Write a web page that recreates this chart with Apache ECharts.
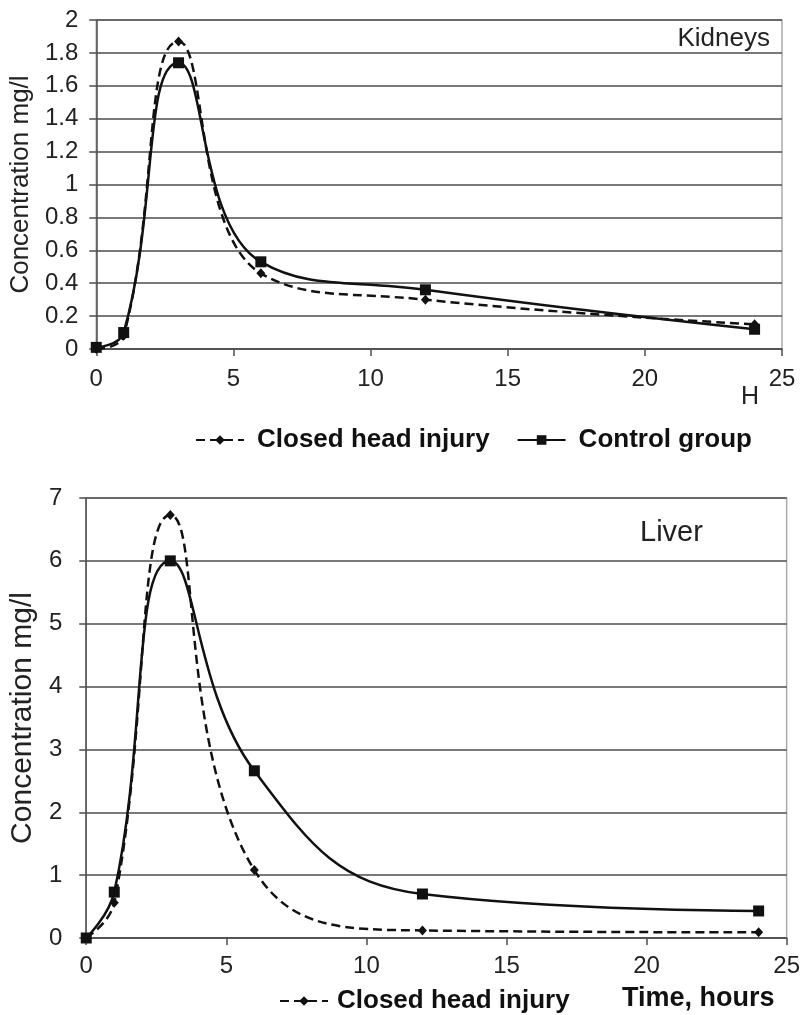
<!DOCTYPE html>
<html>
<head>
<meta charset="utf-8">
<script src="https://cdn.jsdelivr.net/npm/echarts@6/dist/echarts.min.js"></script>
<style>
html,body{margin:0;padding:0;background:#fff;}
#c{width:803px;height:1015px;}
</style>
</head>
<body>
<div id="c"></div>
<script>
// ---- data ----
var hours = [0, 1, 3, 6, 12, 24];
var kidneyInjury = [0.0, 0.08, 1.87, 0.46, 0.30, 0.15];
var kidneyControl = [0.01, 0.10, 1.74, 0.53, 0.36, 0.12];
var liverInjury = [0.0, 0.56, 6.73, 1.08, 0.12, 0.09];
var liverControl = [0.0, 0.73, 6.0, 2.66, 0.70, 0.43];
var xTicks = [0, 5, 10, 15, 20, 25];
var kidneyYTicks = [0, 0.2, 0.4, 0.6, 0.8, 1, 1.2, 1.4, 1.6, 1.8, 2];
var liverYTicks = [0, 1, 2, 3, 4, 5, 6, 7];
var seriesNames = ['Closed head injury', 'Control group'];

function pairs(xs, ys) { return xs.map(function (x, i) { return [x, ys[i]]; }); }

var FONT = '"Liberation Sans", Arial, sans-serif';
var TXT = '#222';
var GRIDC = '#4d4d4d';

function xAxisCfg(gridIndex, margin) {
  return {
    type: 'value', gridIndex: gridIndex,
    min: xTicks[0], max: xTicks[xTicks.length - 1], interval: xTicks[1] - xTicks[0],
    axisLine: { lineStyle: { color: GRIDC, width: 1.5 } },
    axisTick: { show: true, inside: false, length: 7, lineStyle: { color: GRIDC, width: 1.5 } },
    axisLabel: { margin: margin, fontFamily: FONT, fontSize: 24, color: TXT },
    splitLine: { show: false }
  };
}
function yAxisCfg(gridIndex, ticks, nameSize, nameGap, labelMargin) {
  return {
    type: 'value', gridIndex: gridIndex,
    min: ticks[0], max: ticks[ticks.length - 1], interval: ticks[1] - ticks[0],
    name: 'Concentration mg/l', nameLocation: 'middle', nameGap: nameGap,
    nameTextStyle: { fontFamily: FONT, fontSize: nameSize, color: TXT },
    axisLine: { show: true, lineStyle: { color: GRIDC, width: 1.5 } },
    axisTick: { show: true, inside: false, length: 7, lineStyle: { color: GRIDC, width: 1.5 } },
    axisLabel: { margin: labelMargin, fontFamily: FONT, fontSize: 24, color: TXT,
      formatter: function (v) { return String(Math.round(v * 10) / 10); } },
    splitLine: { show: true, lineStyle: { color: GRIDC, width: 1.5 } }
  };
}

function injurySeries(xi, yi, data) {
  return {
    name: seriesNames[0], type: 'line', xAxisIndex: xi, yAxisIndex: yi,
    data: pairs(hours, data), smooth: 0.45,
    symbol: 'diamond', symbolSize: [9, 10],
    lineStyle: { color: '#111', width: 2.5, type: [9, 5] },
    itemStyle: { color: '#111' },
    z: 3
  };
}
function controlSeries(xi, yi, data) {
  return {
    name: seriesNames[1], type: 'line', xAxisIndex: xi, yAxisIndex: yi,
    data: pairs(hours, data), smooth: 0.45,
    symbol: 'rect', symbolSize: 11,
    lineStyle: { color: '#111', width: 2.5, type: 'solid' },
    itemStyle: { color: '#111' },
    z: 4
  };
}

var chart = echarts.init(document.getElementById('c'), null, { renderer: 'canvas' });
chart.setOption({
  backgroundColor: '#fff',
  animation: false,
  grid: [
    { left: 92, top: 20, width: 690, height: 329, show: true, borderColor: '#aaa', borderWidth: 1.5 },
    { left: 81, top: 498, width: 712, height: 440, show: true, borderColor: '#aaa', borderWidth: 1.5 }
  ],
  xAxis: [xAxisCfg(0, 18), xAxisCfg(1, 16)],
  yAxis: [yAxisCfg(0, kidneyYTicks, 26, 60, 18), yAxisCfg(1, liverYTicks, 30, 46, 24)],
  legend: [
    {
      data: seriesNames, left: 190, top: 422, itemWidth: 48, itemHeight: 12, itemGap: 27,
      textStyle: { fontFamily: FONT, fontSize: 26, fontWeight: 'bold', color: '#111', padding: [0, 0, 0, 8] },
      selectedMode: false
    },
    {
      data: [seriesNames[0]], left: 274, top: 983, itemWidth: 48, itemHeight: 12,
      textStyle: { fontFamily: FONT, fontSize: 26, fontWeight: 'bold', color: '#111', padding: [0, 0, 0, 4] },
      selectedMode: false
    }
  ],
  graphic: [
    { type: 'text', right: 33, top: 26, style: { text: 'Kidneys', font: '26px ' + FONT, fill: TXT } },
    { type: 'text', left: 640, top: 518, style: { text: 'Liver', font: '29px ' + FONT, fill: TXT } },
    { type: 'text', left: 741, top: 385, style: { text: 'H', font: '25px ' + FONT, fill: TXT } },
    { type: 'text', left: 622, top: 985, style: { text: 'Time, hours', font: 'bold 27px ' + FONT, fill: '#111' } }
  ],
  series: [
    injurySeries(0, 0, kidneyInjury),
    controlSeries(0, 0, kidneyControl),
    injurySeries(1, 1, liverInjury),
    controlSeries(1, 1, liverControl)
  ]
});
</script>
</body>
</html>
